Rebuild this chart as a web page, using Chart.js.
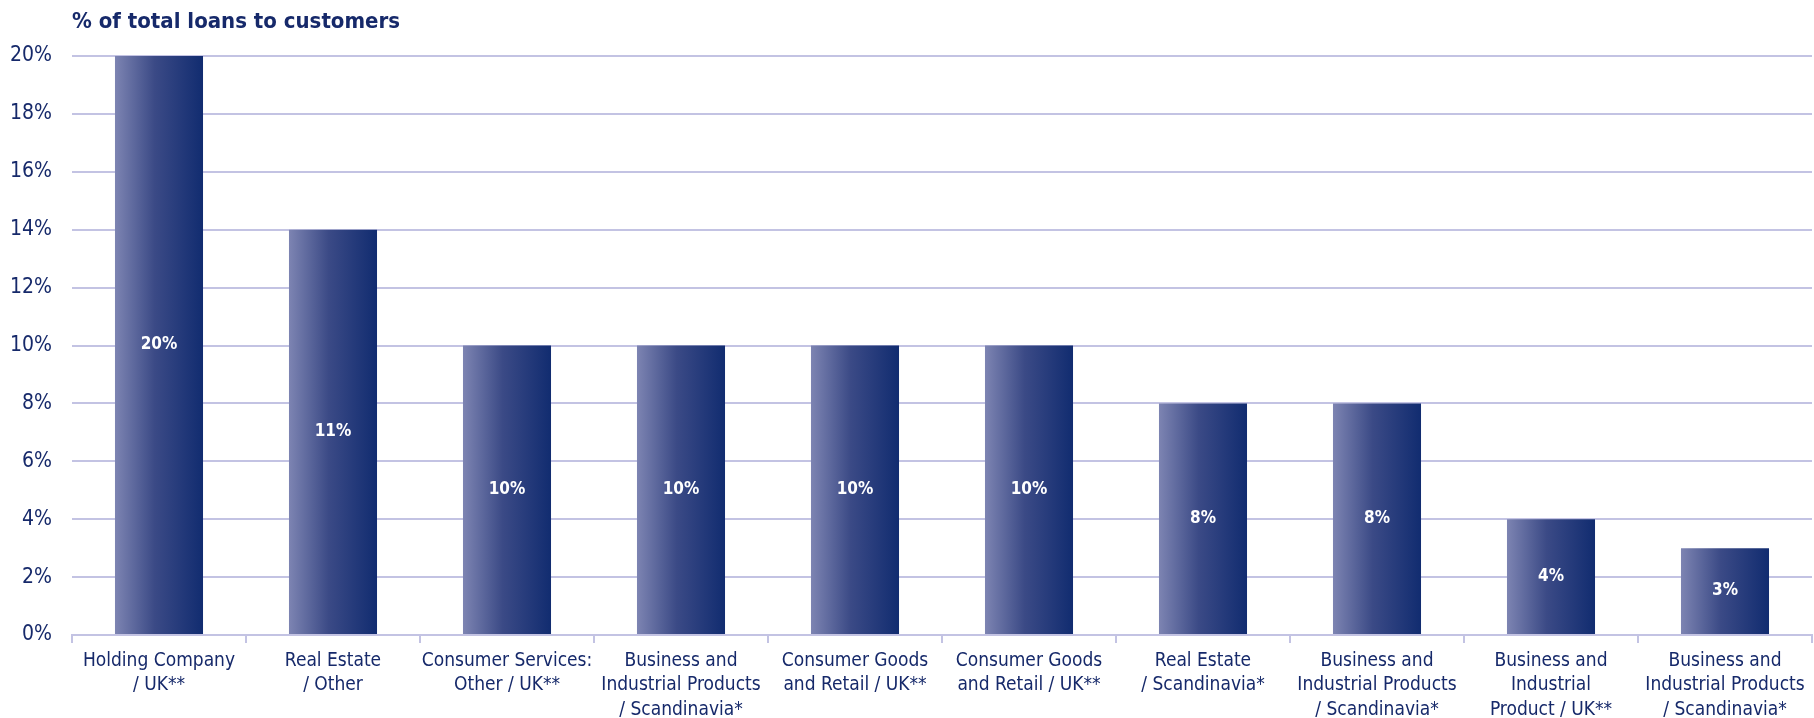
<!DOCTYPE html>
<html>
<head>
<meta charset="utf-8">
<script src="https://cdn.jsdelivr.net/npm/chart.js@4.4.1/dist/chart.umd.min.js"></script>
<style>
  html, body { margin: 0; padding: 0; background: #ffffff; }
  #wrap { width: 1814px; height: 718px; position: relative; }
</style>
</head>
<body>
<div id="wrap"><canvas id="loans"></canvas></div>
<script>
// chart data
const categories = [
    ['Holding Company', '/ UK**'],
    ['Real Estate', '/ Other'],
    ['Consumer Services:', 'Other / UK**'],
    ['Business and', 'Industrial Products', '/ Scandinavia*'],
    ['Consumer Goods', 'and Retail / UK**'],
    ['Consumer Goods', 'and Retail / UK**'],
    ['Real Estate', '/ Scandinavia*'],
    ['Business and', 'Industrial Products', '/ Scandinavia*'],
    ['Business and', 'Industrial', 'Product / UK**'],
    ['Business and', 'Industrial Products', '/ Scandinavia*']
];
const barValues = [20, 14, 10, 10, 10, 10, 8, 8, 4, 3];
const barLabels = ['20%', '11%', '10%', '10%', '10%', '10%', '8%', '8%', '4%', '3%'];
const yTicks = [0, 2, 4, 6, 8, 10, 12, 14, 16, 18, 20];
const chartTitle = '% of total loans to customers';

const NAVY = '#16296a';
const GRID = '#c3c3e3';
const FONT = "'Liberation Sans Narrow', 'DejaVu Sans Condensed', 'Roboto', sans-serif";
const BAR_PCT = 0.506;

// horizontal gradient for each bar, computed from the x scale
function barGradient(context) {
    const chart = context.chart;
    if (!chart.chartArea) return NAVY;
    const xs = chart.scales.x;
    const cx = xs.getPixelForValue(context.dataIndex);
    const half = xs.width / categories.length * BAR_PCT / 2;
    const g = chart.ctx.createLinearGradient(cx - half, 0, cx + half, 0);
    g.addColorStop(0, '#7d84b2');
    g.addColorStop(0.45, '#3b4a86');
    g.addColorStop(1, '#112c70');
    return g;
}

const titleAndLabels = {
    id: 'titleAndLabels',
    afterDraw(chart) {
        const ctx = chart.ctx;
        ctx.save();
        ctx.fillStyle = NAVY;
        ctx.font = "bold 22px " + FONT;
        ctx.textAlign = 'left';
        ctx.textBaseline = 'alphabetic';
        ctx.fillText(chartTitle, chart.chartArea.left, 28);

        const meta = chart.getDatasetMeta(0);
        ctx.fillStyle = '#ffffff';
        ctx.font = "bold 17px " + FONT;
        ctx.textAlign = 'center';
        ctx.textBaseline = 'middle';
        meta.data.forEach((bar, i) => {
            ctx.fillText(barLabels[i], bar.x, (bar.y + bar.base) / 2);
        });
        ctx.restore();
    }
};

new Chart(document.getElementById('loans'), {
    type: 'bar',
    data: {
        labels: categories,
        datasets: [{
            data: barValues,
            backgroundColor: barGradient,
            borderWidth: 0,
            categoryPercentage: 1,
            barPercentage: BAR_PCT
        }]
    },
    options: {
        responsive: true,
        maintainAspectRatio: false,
        animation: false,
        layout: { padding: { top: 56, right: 2, left: 0, bottom: 0 } },
        plugins: {
            legend: { display: false },
            tooltip: { enabled: false }
        },
        scales: {
            x: {
                afterFit(axis) { axis.height = 83; },
                grid: {
                    display: true,
                    drawOnChartArea: false,
                    drawTicks: true,
                    tickLength: 8,
                    color: GRID,
                    lineWidth: 2
                },
                border: { color: GRID, width: 2 },
                ticks: {
                    color: NAVY,
                    font: { family: FONT, size: 19, lineHeight: 1.28 },
                    maxRotation: 0,
                    autoSkip: false,
                    padding: 6
                }
            },
            y: {
                min: 0,
                max: 20,
                afterFit(axis) { axis.width = 72; },
                afterBuildTicks(axis) { axis.ticks = yTicks.map(v => ({ value: v })); },
                grid: {
                    color: GRID,
                    lineWidth: 2,
                    drawTicks: false
                },
                border: { display: false },
                ticks: {
                    color: NAVY,
                    font: { family: FONT, size: 21 },
                    padding: 20,
                    callback: v => v + '%'
                }
            }
        }
    },
    plugins: [titleAndLabels]
});
</script>
</body>
</html>
